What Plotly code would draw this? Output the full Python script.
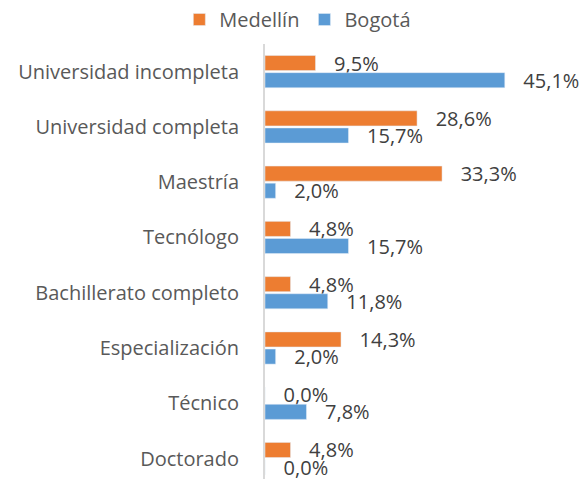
import plotly.graph_objects as go

categories = ["Universidad incompleta", "Universidad completa", "Maestría", "Tecnólogo",
              "Bachillerato completo", "Especialización", "Técnico", "Doctorado"]
medellin = [9.5, 28.6, 33.3, 4.8, 4.8, 14.3, 0.0, 4.8]
bogota = [45.1, 15.7, 2.0, 15.7, 11.8, 2.0, 7.8, 0.0]

def lab(vals):
    return ["\u00a0\u00a0\u00a0" + f"{v:.1f}".replace(".", ",") + "%" for v in vals]

FONT = "Open Sans"
TXT = "#404040"
SZ = 20

fig = go.Figure()
fig.add_trace(go.Bar(name="Medellín", y=categories, x=medellin, orientation="h",
                     marker_color="#ED7D31", text=lab(medellin), textposition="outside",
                     constraintext="none",
                     textfont=dict(color=TXT, size=SZ, family=FONT), cliponaxis=False))
fig.add_trace(go.Bar(name="Bogotá", y=categories, x=bogota, orientation="h",
                     marker_color="#5B9BD5", text=lab(bogota), textposition="outside",
                     constraintext="none",
                     textfont=dict(color=TXT, size=SZ, family=FONT), cliponaxis=False))

fig.update_layout(
    width=584, height=479,
    margin=dict(l=265, r=0, t=44, b=0, autoexpand=False),
    paper_bgcolor="white", plot_bgcolor="white",
    barmode="group", bargap=0.38, bargroupgap=0.12,
    font=dict(family=FONT, color=TXT, size=SZ),
    legend=dict(orientation="h", x=0.51, xanchor="center", y=1.0, yanchor="top",
                xref="container", yref="container",
                font=dict(size=SZ, color="#595959"), traceorder="normal",
                itemwidth=30, tracegroupgap=0),
    showlegend=True,
)
fig.update_xaxes(range=[0, 60], visible=False)
fig.update_yaxes(range=[7.37, -0.5], showline=True, linecolor="#D9D9D9", linewidth=2,
                 showgrid=False, ticks="", ticklabelstandoff=20, automargin=False,
                 tickfont=dict(size=SZ, color="#595959", family=FONT))

fig.write_html("out.html", config={"displayModeBar": False},
               post_script="document.body.style.margin='0';document.body.style.overflow='hidden';")
